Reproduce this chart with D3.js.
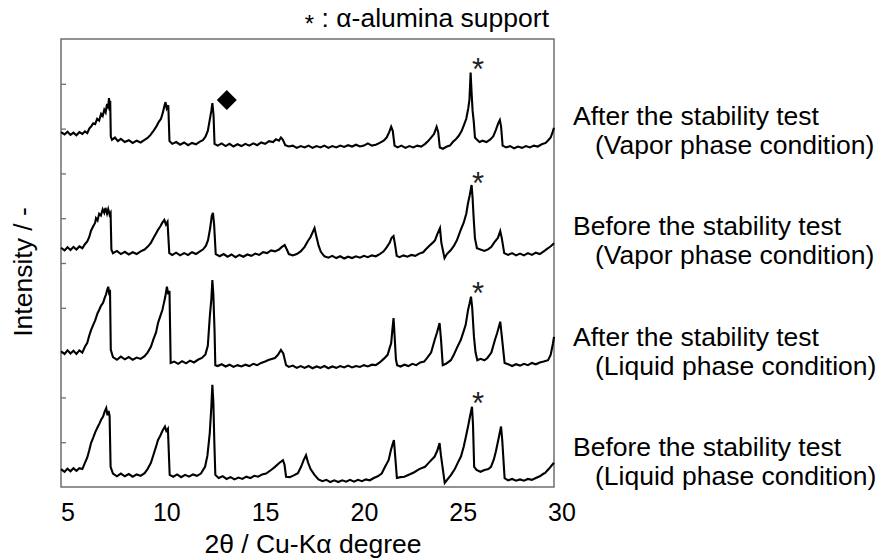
<!DOCTYPE html>
<html>
<head>
<meta charset="utf-8">
<script src="https://cdn.jsdelivr.net/npm/d3@7"></script>
<style>
  body { margin: 0; background: #fff; }
  svg { display: block; font-family: "Liberation Sans", Arial, sans-serif; }
</style>
</head>
<body>
<div id="chart"></div>
<script>
// XRD patterns, [2theta (deg), intensity (a.u., offset)]
const afterVapor = [
  [4.67,7.92],[4.85,7.87],[5.0,7.93],[5.15,7.86],[5.3,7.91],[5.45,7.85],[5.6,7.92],[5.75,7.88],[5.88,7.94],[6.0,7.90],
  [6.1,8.0],[6.2,8.05],[6.3,8.12],[6.4,8.10],[6.5,8.22],[6.6,8.18],[6.7,8.33],[6.78,8.28],[6.86,8.42],[6.93,8.36],
  [7.0,8.55],[7.05,8.45],[7.1,8.68],[7.13,8.40],[7.16,8.62],[7.19,7.82],[7.25,7.75],[7.4,7.80],[7.55,7.72],[7.7,7.77],
  [7.9,7.70],[8.1,7.74],[8.3,7.68],[8.5,7.73],[8.7,7.69],[8.9,7.75],[9.05,7.79],[9.2,7.86],[9.35,7.95],[9.5,8.05],
  [9.62,8.15],[9.73,8.22],[9.82,8.35],[9.9,8.50],[9.96,8.59],[10.02,8.45],[10.1,8.52],[10.16,7.72],[10.3,7.66],[10.5,7.70],
  [10.7,7.64],[10.9,7.69],[11.1,7.63],[11.3,7.68],[11.5,7.65],[11.7,7.71],[11.85,7.74],[11.98,7.82],[12.1,7.95],[12.2,8.20],
  [12.28,8.40],[12.33,8.57],[12.39,8.30],[12.44,7.66],[12.6,7.62],[12.8,7.67],[13.0,7.61],[13.2,7.66],[13.4,7.60],[13.6,7.65],
  [13.8,7.61],[14.0,7.66],[14.2,7.62],[14.4,7.67],[14.6,7.63],[14.8,7.69],[15.0,7.66],[15.2,7.72],[15.4,7.70],[15.55,7.76],
  [15.7,7.73],[15.8,7.80],[15.9,7.75],[16.02,7.63],[16.2,7.60],[16.4,7.62],[16.6,7.57],[16.8,7.61],[17.0,7.58],[17.2,7.62],
  [17.4,7.57],[17.6,7.61],[17.8,7.58],[18.0,7.62],[18.2,7.57],[18.4,7.61],[18.6,7.58],[18.8,7.62],[19.0,7.59],[19.2,7.63],
  [19.4,7.60],[19.6,7.64],[19.8,7.60],[20.0,7.62],[20.2,7.67],[20.4,7.62],[20.6,7.64],[20.8,7.68],[21.0,7.73],[21.15,7.80],
  [21.28,7.92],[21.38,8.04],[21.46,7.95],[21.55,7.62],[21.7,7.58],[21.9,7.62],[22.1,7.57],[22.3,7.61],[22.5,7.58],[22.7,7.62],
  [22.9,7.60],[23.1,7.66],[23.25,7.72],[23.4,7.80],[23.55,7.88],[23.68,8.04],[23.76,7.92],[23.84,7.58],[24.0,7.55],[24.2,7.60],
  [24.35,7.62],[24.5,7.70],[24.65,7.76],[24.8,7.84],[24.95,7.95],[25.08,8.10],[25.18,8.22],[25.28,8.45],[25.34,8.64],[25.4,9.25],
  [25.45,8.80],[25.5,8.40],[25.56,8.15],[25.62,7.80],[25.7,7.76],[25.85,7.70],[26.0,7.73],[26.2,7.70],[26.4,7.76],[26.55,7.83],
  [26.68,7.97],[26.8,8.12],[26.88,8.19],[26.94,8.05],[27.02,7.62],[27.2,7.58],[27.4,7.61],[27.6,7.56],[27.8,7.60],[28.0,7.57],
  [28.2,7.61],[28.4,7.58],[28.6,7.62],[28.8,7.60],[29.0,7.65],[29.2,7.68],[29.35,7.75],[29.45,7.80],[29.55,7.92],[29.62,8.02]
];
const beforeVapor = [
  [4.67,5.34],[4.85,5.28],[5.0,5.35],[5.15,5.29],[5.3,5.36],[5.45,5.30],[5.6,5.37],[5.75,5.33],[5.88,5.42],[6.0,5.48],
  [6.1,5.58],[6.19,5.72],[6.3,5.82],[6.4,5.90],[6.44,6.00],[6.52,5.95],[6.6,6.10],[6.69,6.06],[6.78,6.20],[6.86,6.12],
  [6.92,6.23],[7.0,6.10],[7.06,6.20],[7.13,6.08],[7.18,6.12],[7.22,5.30],[7.3,5.22],[7.5,5.27],[7.7,5.20],[7.9,5.25],
  [8.1,5.19],[8.3,5.24],[8.5,5.20],[8.7,5.26],[8.9,5.30],[9.05,5.36],[9.22,5.45],[9.35,5.56],[9.48,5.66],[9.58,5.74],
  [9.7,5.82],[9.8,5.90],[9.9,5.96],[9.98,5.86],[10.06,5.92],[10.15,5.22],[10.3,5.18],[10.5,5.23],[10.7,5.17],[10.9,5.22],
  [11.1,5.18],[11.3,5.24],[11.5,5.20],[11.7,5.26],[11.85,5.30],[12.0,5.38],[12.11,5.51],[12.22,5.78],[12.3,6.05],[12.36,6.12],
  [12.42,5.85],[12.5,5.20],[12.7,5.15],[12.9,5.20],[13.1,5.14],[13.3,5.19],[13.5,5.13],[13.7,5.18],[13.9,5.14],[14.1,5.19],
  [14.3,5.16],[14.5,5.21],[14.7,5.18],[14.9,5.24],[15.1,5.22],[15.3,5.28],[15.5,5.26],[15.7,5.30],[15.85,5.36],[15.99,5.40],
  [16.1,5.30],[16.2,5.20],[16.4,5.17],[16.6,5.20],[16.8,5.26],[17.0,5.36],[17.15,5.48],[17.3,5.58],[17.42,5.70],[17.5,5.78],
  [17.58,5.62],[17.7,5.40],[17.82,5.25],[18.0,5.15],[18.2,5.12],[18.4,5.16],[18.6,5.11],[18.8,5.15],[19.0,5.10],[19.2,5.14],
  [19.4,5.11],[19.6,5.15],[19.8,5.12],[20.0,5.16],[20.2,5.13],[20.4,5.17],[20.6,5.15],[20.8,5.20],[21.0,5.26],[21.15,5.35],
  [21.3,5.45],[21.4,5.56],[21.5,5.60],[21.58,5.40],[21.66,5.16],[21.8,5.13],[22.0,5.17],[22.2,5.14],[22.4,5.18],[22.6,5.16],
  [22.8,5.21],[23.0,5.24],[23.1,5.29],[23.3,5.38],[23.5,5.46],[23.6,5.51],[23.72,5.65],[23.85,5.78],[23.92,5.45],[24.08,5.11],
  [24.2,5.20],[24.4,5.29],[24.55,5.38],[24.7,5.50],[24.9,5.74],[25.05,5.90],[25.18,6.10],[25.27,6.34],[25.35,6.50],[25.45,6.74],
  [25.5,6.45],[25.56,5.96],[25.62,5.55],[25.72,5.33],[25.9,5.30],[26.1,5.27],[26.3,5.31],[26.45,5.36],[26.6,5.46],[26.78,5.56],
  [26.9,5.71],[26.98,5.55],[27.1,5.22],[27.3,5.18],[27.5,5.22],[27.7,5.17],[27.9,5.21],[28.1,5.17],[28.3,5.22],[28.5,5.18],
  [28.7,5.23],[28.9,5.20],[29.1,5.26],[29.32,5.33],[29.47,5.38],[29.62,5.44]
];
const afterLiquid = [
  [4.67,3.03],[4.85,2.97],[5.0,3.05],[5.15,2.98],[5.3,3.04],[5.45,2.97],[5.6,3.05],[5.75,3.00],[5.88,3.13],[6.0,3.22],
  [6.1,3.38],[6.19,3.50],[6.3,3.62],[6.4,3.72],[6.52,3.88],[6.6,3.95],[6.7,4.05],[6.8,4.11],[6.88,4.22],[6.95,4.30],
  [7.02,4.42],[7.06,4.47],[7.1,4.35],[7.15,4.40],[7.19,3.06],[7.3,2.90],[7.5,2.84],[7.7,2.91],[7.9,2.85],[8.1,2.90],
  [8.3,2.84],[8.5,2.89],[8.7,2.86],[8.9,2.92],[9.05,3.00],[9.22,3.13],[9.35,3.30],[9.48,3.45],[9.58,3.66],[9.7,3.82],
  [9.8,3.95],[9.88,4.11],[9.95,4.25],[10.03,4.47],[10.1,4.30],[10.16,4.38],[10.22,2.77],[10.4,2.80],[10.6,2.75],[10.8,2.81],
  [11.0,2.76],[11.2,2.82],[11.4,2.78],[11.6,2.84],[11.8,2.88],[11.98,2.96],[12.1,3.15],[12.2,3.80],[12.28,4.20],[12.33,4.62],
  [12.38,4.30],[12.44,3.50],[12.48,2.72],[12.6,2.70],[12.8,2.74],[13.0,2.69],[13.2,2.73],[13.4,2.68],[13.6,2.72],[13.8,2.69],
  [14.0,2.73],[14.2,2.70],[14.4,2.75],[14.6,2.72],[14.8,2.77],[15.0,2.80],[15.2,2.84],[15.5,2.88],[15.65,2.95],[15.8,3.06],
  [15.92,2.98],[16.06,2.72],[16.2,2.68],[16.4,2.71],[16.6,2.66],[16.8,2.70],[17.0,2.66],[17.2,2.70],[17.4,2.65],[17.6,2.69],
  [17.8,2.66],[18.0,2.70],[18.2,2.65],[18.4,2.69],[18.6,2.66],[18.8,2.70],[19.0,2.67],[19.2,2.71],[19.4,2.67],[19.6,2.70],
  [19.8,2.68],[20.0,2.72],[20.2,2.69],[20.4,2.73],[20.6,2.72],[20.8,2.78],[21.0,2.86],[21.2,2.95],[21.3,3.10],[21.38,3.21],
  [21.45,3.55],[21.5,3.77],[21.55,3.40],[21.62,2.85],[21.68,2.72],[21.85,2.69],[22.05,2.73],[22.25,2.70],[22.45,2.75],[22.65,2.72],
  [22.85,2.78],[23.05,2.80],[23.2,2.88],[23.4,3.00],[23.58,3.28],[23.7,3.45],[23.83,3.66],[23.9,3.30],[23.99,2.72],[24.15,2.75],
  [24.4,2.83],[24.55,2.95],[24.7,3.10],[24.9,3.28],[25.05,3.48],[25.15,3.62],[25.27,3.95],[25.35,4.10],[25.42,4.25],[25.48,4.00],
  [25.57,3.35],[25.65,3.00],[25.74,2.83],[25.9,2.86],[26.1,2.83],[26.25,2.88],[26.45,3.00],[26.63,3.28],[26.75,3.45],[26.9,3.69],
  [26.97,3.40],[27.12,2.77],[27.3,2.74],[27.5,2.70],[27.7,2.74],[27.9,2.71],[28.1,2.75],[28.3,2.72],[28.5,2.77],[28.7,2.74],
  [28.9,2.78],[29.1,2.80],[29.32,2.83],[29.45,2.95],[29.57,3.21],[29.62,3.35]
];
const beforeLiquid = [
  [4.67,0.40],[4.85,0.34],[5.0,0.41],[5.15,0.35],[5.3,0.42],[5.45,0.36],[5.6,0.42],[5.75,0.40],[5.88,0.54],[6.0,0.66],
  [6.1,0.82],[6.19,0.98],[6.3,1.10],[6.4,1.22],[6.54,1.35],[6.62,1.42],[6.7,1.50],[6.8,1.57],[6.88,1.68],[6.96,1.76],
  [7.02,1.60],[7.08,1.70],[7.13,1.58],[7.18,0.45],[7.3,0.30],[7.5,0.24],[7.7,0.30],[7.9,0.24],[8.1,0.29],[8.3,0.23],
  [8.5,0.28],[8.7,0.25],[8.9,0.31],[9.05,0.40],[9.22,0.54],[9.35,0.72],[9.48,0.90],[9.58,1.05],[9.7,1.15],[9.8,1.25],
  [9.93,1.35],[10.0,1.25],[10.08,1.30],[10.17,0.27],[10.35,0.23],[10.55,0.28],[10.75,0.22],[10.95,0.27],[11.15,0.23],[11.35,0.28],
  [11.55,0.25],[11.75,0.30],[11.96,0.45],[12.08,0.70],[12.2,1.21],[12.28,1.80],[12.33,2.28],[12.38,1.90],[12.43,1.00],[12.48,0.27],
  [12.65,0.20],[12.85,0.24],[13.05,0.18],[13.25,0.22],[13.45,0.17],[13.65,0.21],[13.85,0.18],[14.05,0.23],[14.25,0.20],[14.45,0.25],
  [14.65,0.23],[14.85,0.28],[15.05,0.30],[15.3,0.38],[15.5,0.45],[15.7,0.53],[15.9,0.60],[15.98,0.50],[16.06,0.23],[16.25,0.22],
  [16.45,0.26],[16.66,0.31],[16.82,0.45],[16.95,0.60],[17.07,0.71],[17.17,0.55],[17.3,0.40],[17.5,0.27],[17.7,0.17],[17.9,0.13],
  [18.1,0.16],[18.3,0.11],[18.5,0.15],[18.7,0.11],[18.9,0.15],[19.1,0.12],[19.3,0.16],[19.5,0.12],[19.7,0.16],[19.9,0.13],
  [20.1,0.17],[20.3,0.15],[20.5,0.20],[20.7,0.24],[20.9,0.30],[21.07,0.45],[21.25,0.60],[21.37,0.83],[21.47,0.98],[21.52,1.05],
  [21.58,0.70],[21.67,0.20],[21.85,0.22],[22.05,0.23],[22.3,0.28],[22.55,0.33],[22.8,0.40],[23.09,0.45],[23.3,0.55],[23.58,0.68],
  [23.72,0.82],[23.83,0.98],[23.9,0.70],[24.09,0.09],[24.25,0.18],[24.41,0.27],[24.6,0.40],[24.76,0.55],[24.91,0.68],[25.05,0.90],
  [25.15,1.10],[25.27,1.35],[25.38,1.60],[25.47,1.79],[25.52,1.40],[25.58,0.45],[25.7,0.38],[25.9,0.34],[26.1,0.38],[26.3,0.40],
  [26.43,0.45],[26.58,0.62],[26.68,0.80],[26.8,1.05],[26.94,1.35],[27.0,1.05],[27.12,0.20],[27.3,0.15],[27.5,0.18],[27.7,0.14],
  [27.9,0.17],[28.1,0.14],[28.3,0.18],[28.5,0.16],[28.7,0.20],[28.9,0.24],[29.1,0.30],[29.16,0.31],[29.35,0.40],[29.5,0.48],
  [29.62,0.54]
];

const series = [afterVapor, beforeVapor, afterLiquid, beforeLiquid];
const seriesLabels = [
  ["After the stability test", "(Vapor phase condition)"],
  ["Before the stability test", "(Vapor phase condition)"],
  ["After the stability test", "(Liquid phase condition)"],
  ["Before the stability test", "(Liquid phase condition)"]
];
// alumina marks [2theta, intensity] and the unknown-phase diamond
const aluminaMarks = [[25.77, 9.50], [25.77, 6.96], [25.77, 4.51], [25.77, 2.05]];
const diamondMark = [13.06, 8.64];
const xTicks = [5, 10, 15, 20, 25, 30];

const width = 877, height = 560;
const margin = { top: 39, right: 323, bottom: 73, left: 61 };
const iw = width - margin.left - margin.right;
const ih = height - margin.top - margin.bottom;

const svg = d3.select('#chart').append('svg')
  .attr('width', width)
  .attr('height', height);

const g = svg.append('g').attr('transform', `translate(${margin.left},${margin.top})`);

const x = d3.scaleLinear().domain([4.67, 29.62]).range([0, iw]);
const y = d3.scaleLinear().domain([0, 10]).range([ih, 0]);

// frame
g.append('rect')
  .attr('width', iw).attr('height', ih)
  .attr('fill', 'none')
  .attr('stroke', '#6e6e6e')
  .attr('stroke-width', 1.5);

// y ticks, inside, no labels
g.append('g')
  .call(d3.axisLeft(y).tickValues(d3.range(1, 10)).tickSize(-5).tickFormat(''))
  .call(a => a.select('.domain').remove())
  .selectAll('line')
    .attr('stroke', '#6e6e6e')
    .attr('stroke-width', 1.3);

// x labels only
g.append('g')
  .attr('transform', `translate(0,${ih})`)
  .call(d3.axisBottom(x).tickValues(xTicks).tickSize(0))
  .call(a => a.select('.domain').remove())
  .selectAll('text')
    .attr('y', 34)
    .attr('dy', 0)
    .style('font-size', '25px')
    .style('font-family', '"Liberation Sans", Arial, sans-serif')
    .style('fill', '#000');

const line = d3.line().x(d => x(d[0])).y(d => y(d[1]));

const plot = g.append('g');
plot.selectAll('path.xrd')
  .data(series)
  .join('path')
  .attr('class', 'xrd')
  .attr('d', line)
  .attr('fill', 'none')
  .attr('stroke', '#000')
  .attr('stroke-width', 2.1)
  .attr('stroke-linejoin', 'miter');

// alumina asterisks
plot.selectAll('text.star')
  .data(aluminaMarks)
  .join('text')
  .attr('class', 'star')
  .attr('x', d => x(d[0]))
  .attr('y', d => y(d[1]))
  .attr('dy', '0.6em')
  .attr('text-anchor', 'middle')
  .style('font-size', '31px')
  .style('fill', '#222')
  .text('*');

// diamond
plot.append('path')
  .attr('d', d3.symbol(d3.symbolSquare, 200)())
  .attr('transform', `translate(${x(diamondMark[0])},${y(diamondMark[1])}) rotate(45)`)
  .attr('fill', '#000');

// labels on the right
const labelBase = [125, 235, 346, 456];
svg.selectAll('g.lab')
  .data(seriesLabels)
  .join('g')
  .attr('class', 'lab')
  .each(function (d, i) {
    const s = d3.select(this);
    s.append('text').attr('x', 573).attr('y', labelBase[i]).text(d[0]);
    s.append('text').attr('x', 595).attr('y', labelBase[i] + 29).text(d[1]);
  })
  .selectAll('text')
    .style('font-size', '26.5px')
    .style('fill', '#000');

// legend note
const note = svg.append('text')
  .attr('x', 549).attr('y', 27)
  .attr('text-anchor', 'end')
  .style('font-size', '26.5px')
  .style('fill', '#000');
note.append('tspan').attr('dy', 5).style('font-size', '24px').text('*');
note.append('tspan').attr('dy', -5).text(' : \u03b1-alumina support');

// axis titles
svg.append('text')
  .attr('x', 313).attr('y', 553)
  .attr('text-anchor', 'middle')
  .style('font-size', '26.5px')
  .style('fill', '#000')
  .text('2\u03b8 / Cu-K\u03b1 degree');

svg.append('text')
  .attr('transform', 'translate(32,272) rotate(-90)')
  .attr('text-anchor', 'middle')
  .style('font-size', '26.5px')
  .style('fill', '#000')
  .text('Intensity / -');
</script>
</body>
</html>
